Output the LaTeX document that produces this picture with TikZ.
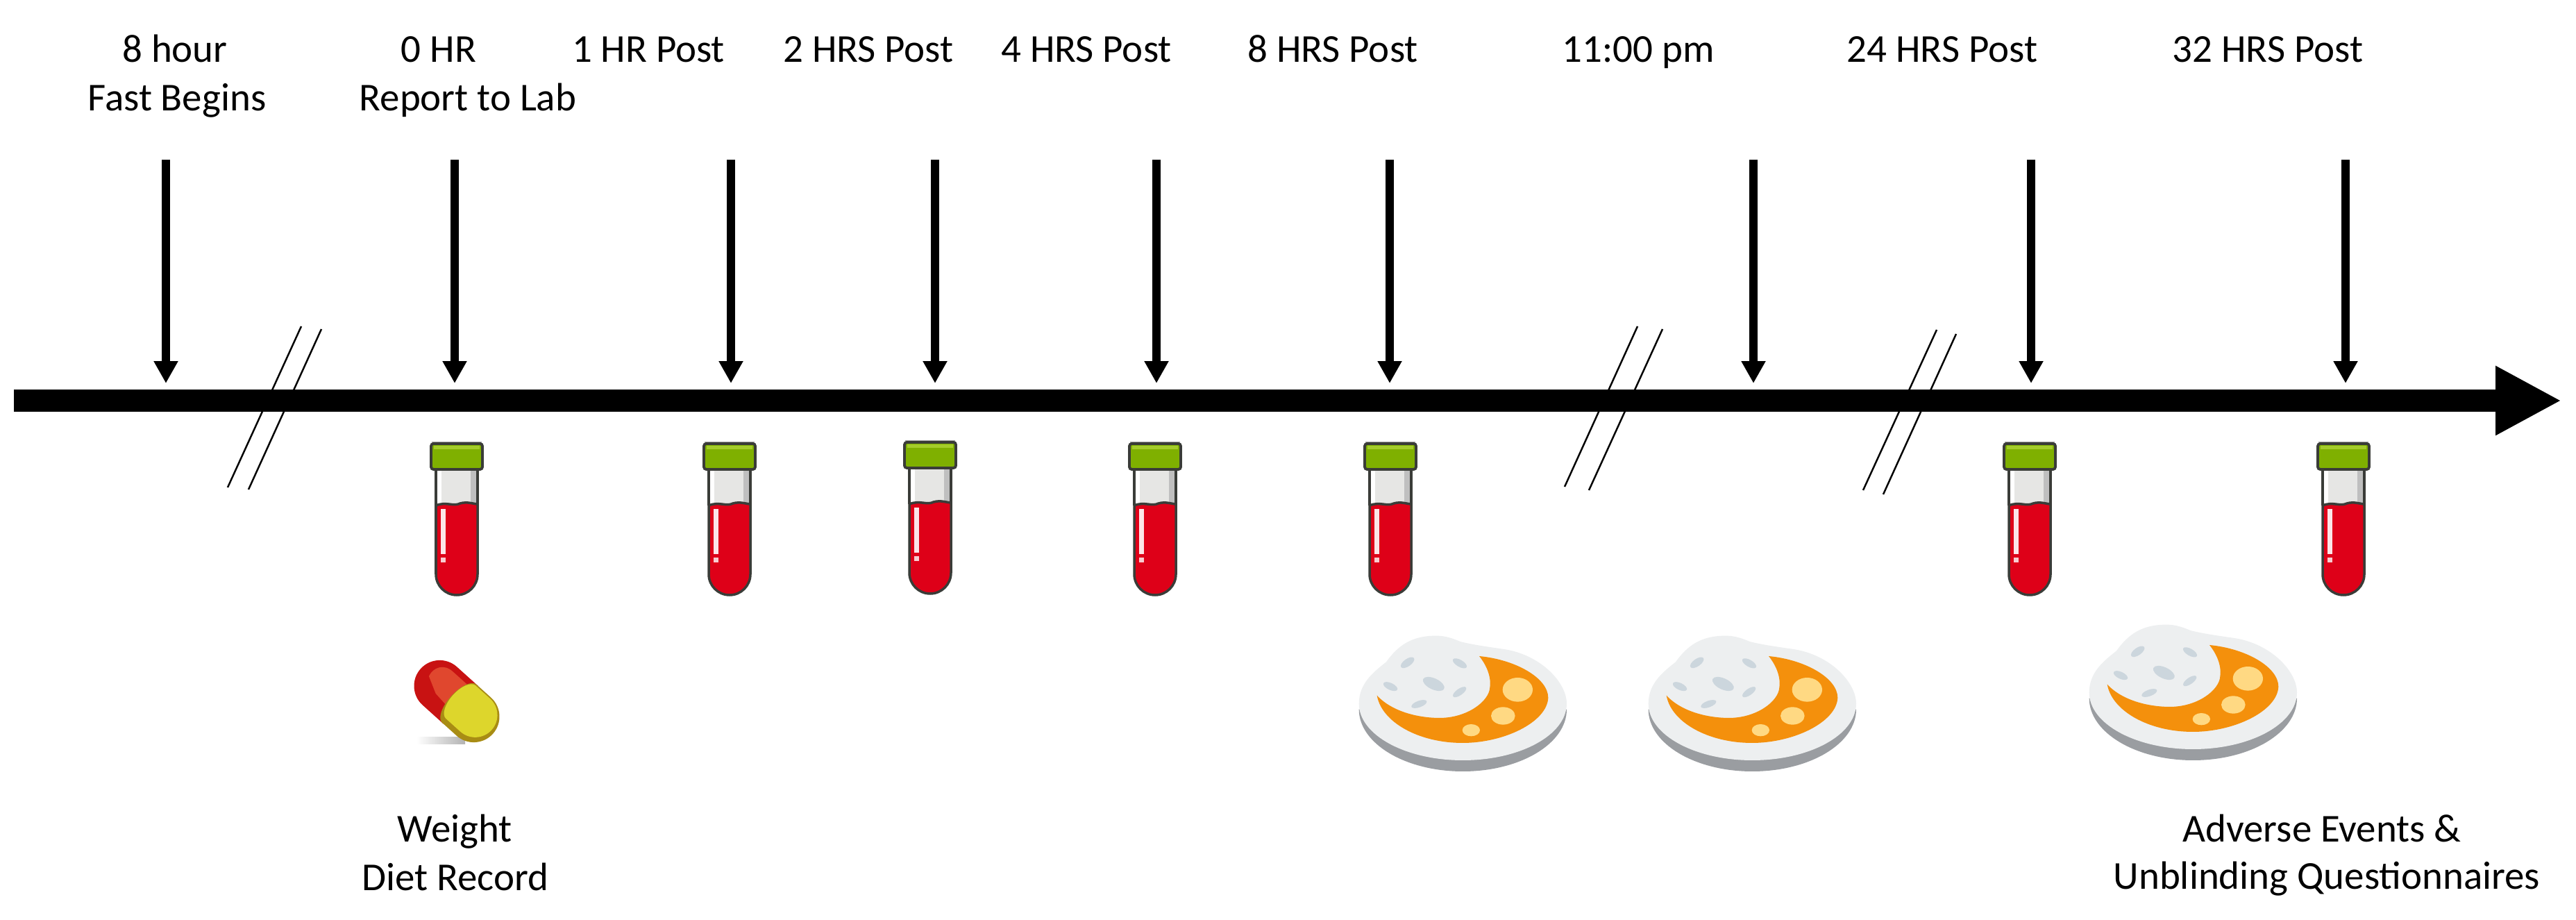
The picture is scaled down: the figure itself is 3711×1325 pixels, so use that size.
\documentclass[tikz,border=0pt]{standalone}
\usepackage{fontspec}
\setmainfont{Carlito}
\usetikzlibrary{arrows.meta}
\definecolor{capgreen}{HTML}{7FB000}
\definecolor{capshine}{HTML}{A4CC2A}
\definecolor{tubeline}{HTML}{3A3C38}
\definecolor{bloodred}{HTML}{DE0018}
\definecolor{glassgrey}{HTML}{E6E6E4}
\definecolor{plategrey}{HTML}{EDEFF0}
\definecolor{rimgrey}{HTML}{9A9DA1}
\definecolor{curryorange}{HTML}{F4900C}
\definecolor{potatoyellow}{HTML}{FFD983}
\definecolor{ricegrey}{HTML}{CCD6DD}
\definecolor{pillred}{HTML}{C81212}
\definecolor{pillshine}{HTML}{E0472E}
\definecolor{pillyellow}{HTML}{DDD62C}
\definecolor{pillrim}{HTML}{A88C14}
\tikzset{
    timelabel/.style = {anchor=base, inner sep=0pt, font=\fontsize{16.2}{16.2}\selectfont},
    timearrow/.style = {-{Triangle[length=9.1pt, width=9.4pt]}, line width=3.3pt},
    breakline/.style = {line width=0.7pt},
    tube/.pic = {
        \fill[glassgrey] (-29,-24) rectangle (29,-90);
        \fill[white] (-29,-24) rectangle (-22,-88);
        \fill[black!25] (20,-24) rectangle (29,-88);
        \filldraw[fill=bloodred, draw=tubeline, line width=1pt] (-30,-90) .. controls (-15,-84) and (-5,-92) .. (5,-87) .. controls (15,-84) and (25,-88) .. (30,-88) -- (30,-189) arc (0:-180:30) -- cycle;
        \draw[tubeline, line width=1pt] (-30,-24) -- (-30,-90) (30,-24) -- (30,-88);
        \fill[white!90!bloodred] (-23,-95) rectangle (-16,-160);
        \fill[white!80!bloodred] (-23,-165) rectangle (-16,-172);
        \fill[black!35] (-36,2) rectangle (36,-3);
        \filldraw[fill=capgreen, draw=tubeline, line width=1.1pt, rounded corners=1pt] (-37,-1) rectangle (37,-38);
        \fill[capshine] (-33,-4) rectangle (33,-9);
    },
    plate/.pic = {
        \begin{scope}[shift={(-620/3,510/3)}, scale=1/3]
            \fill[rimgrey] (172,-515) arc (180:360:449 and 268) -- cycle;
            \fill[plategrey] (172,-490) arc (180:360:449 and 245) .. controls (1070,-400) and (960,-280) .. (800,-255) .. controls (730,-245) and (660,-235) .. (610,-222) .. controls (570,-205) and (540,-197) .. (510,-197) .. controls (400,-195) and (340,-240) .. (290,-310) .. controls (240,-350) and (172,-400) .. (172,-490) -- cycle;
            \fill[curryorange] (692,-285) .. controls (850,-300) and (990,-380) .. (990,-465) .. controls (985,-570) and (800,-660) .. (620,-660) .. controls (430,-660) and (270,-570) .. (250,-455) .. controls (320,-530) and (440,-552) .. (520,-552) .. controls (640,-552) and (735,-480) .. (738,-420) .. controls (745,-370) and (720,-320) .. (692,-285) -- cycle;
            \fill[potatoyellow] (858,-430) ellipse (65 and 52);
            \fill[potatoyellow] (795,-543) ellipse (52 and 38);
            \fill[potatoyellow] (657,-605) ellipse (38 and 26);
            \foreach \gx/\gy/\grx/\gry/\gang in {382/313/34/16/35, 608/316/34/15/-30, 495/405/50/24/-25, 607/440/34/14/35, 432/492/35/14/20, 308/416/33/15/-25}
                \fill[ricegrey, rotate around={\gang:(\gx,-\gy)}] (\gx,-\gy) ellipse ({\grx} and {\gry});
        \end{scope}
    }
}
\begin{document}
\begin{tikzpicture}[x=0.1mm, y=0.1mm]
    \useasboundingbox (0,0) rectangle (3711,-1325);
    % breaks in the time axis
    \draw[breakline] (434,-470) -- (328,-702);
    \draw[breakline] (463,-474) -- (358,-705);
    \draw[breakline] (2359,-470) -- (2254,-701);
    \draw[breakline] (2395,-474) -- (2289,-706);
    \draw[breakline] (2790,-475) -- (2684,-706);
    \draw[breakline] (2818,-481) -- (2713,-712);
    % time axis
    \coordinate (axisstart) at (20,-577);
    \coordinate (axisend) at (3690,-577);
    \draw[-{Triangle[length=27pt, width=26.5pt]}, line width=9.1pt] (axisstart) -- (axisend);
    % arrows onto the axis
    \foreach \name/\px in {fast/239, zero/655, one/1053, two/1347, four/1666, eight/2002, night/2526, day/2926, last/3379} {
        \coordinate (top\name) at (\px,-230);
        \coordinate (tip\name) at (\px,-552);
        \draw[timearrow] (top\name) -- (tip\name);
    }
    % labels above
    \node[timelabel] (lblfasta) at (252,-90) {8 hour};
    \node[timelabel] (lblfastb) at (255,-160) {Fast Begins};
    \node[timelabel] (lblzeroa) at (632,-90) {0 HR};
    \node[timelabel] (lblzerob) at (674,-160) {Report to Lab};
    \node[timelabel] (lblone) at (934,-90) {1 HR Post};
    \node[timelabel] (lbltwo) at (1251,-90) {2 HRS Post};
    \node[timelabel] (lblfour) at (1565,-90) {4 HRS Post};
    \node[timelabel] (lbleight) at (1920,-90) {8 HRS Post};
    \node[timelabel] (lblnight) at (2360,-90) {11:00 pm};
    \node[timelabel] (lblday) at (2798,-90) {24 HRS Post};
    \node[timelabel] (lbllast) at (3267,-90) {32 HRS Post};
    % blood samples
    \foreach \tx/\ty in {658/-638, 1051/-638, 1340/-636, 1664/-638, 2003/-638, 2924/-638, 3376/-638}
        \pic at (\tx,\ty) {tube};
    % capsule
    \shade[left color=white, right color=black!30] (600,-1062) rectangle (670,-1072);
    \begin{scope}[shift={(658,-1010)}, rotate=-42]
        \fill[pillred] (8,37) -- (-33,37) arc (90:270:37) -- (8,-37) -- cycle;
        \fill[pillshine] (8,28) -- (-33,28) .. controls (-50,28) and (-58,14) .. (-54,0) -- (-30,-12) -- (8,-16) -- cycle;
        \fill[pillrim] (5,37) -- (33,37) arc (90:-90:37) -- (5,-37) arc (-90:-270:16 and 37) -- cycle;
        \fill[pillyellow] (5,35) -- (33,35) arc (90:-90:32) -- (5,-29) arc (-90:-270:15 and 32) -- cycle;
    \end{scope}
    % meals
    \pic at (2107,-1020) {plate};
    \pic at (2524,-1020) {plate};
    \pic at (3159,-1004) {plate};
    % labels below
    \node[timelabel] (lblweight) at (655,-1213) {Weight};
    \node[timelabel] (lbldiet) at (656,-1283) {Diet Record};
    \node[timelabel] (lbladverse) at (3345,-1213) {Adverse Events \&};
    \node[timelabel] (lblunblind) at (3352,-1281) {Unblinding Questionnaires};
\end{tikzpicture}
\end{document}
